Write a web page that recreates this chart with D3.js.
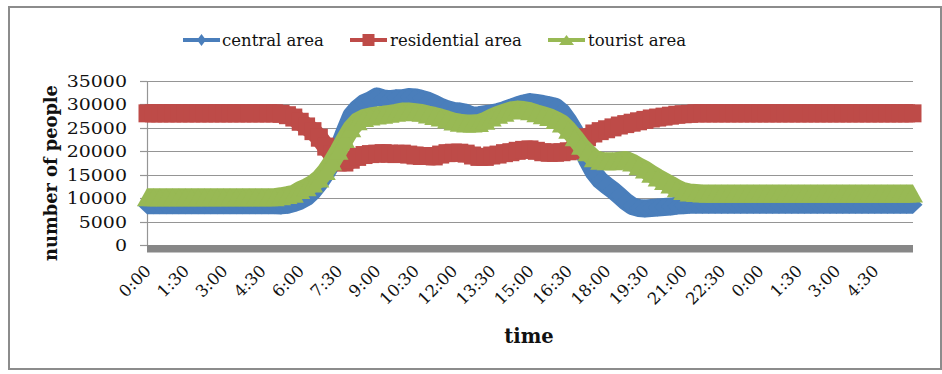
<!DOCTYPE html>
<html><head><meta charset="utf-8">
<script src="https://cdn.jsdelivr.net/npm/d3@7"></script>
<style>html,body{margin:0;padding:0;background:#fff;} svg{display:block;}</style>
</head><body>
<svg id="chart" width="942" height="374"></svg>
<script>
// Sampling step of the series (minutes from 0:00, 30 hours in total)
const stepMinutes = 15;
const spanMinutes = 1800;

// number of people per area, one value every 15 minutes
const central = [
  8500, 8500, 8500, 8500, 8500, 8500, 8500, 8500, 8500, 8500,
  8500, 8500, 8500, 8500, 8500, 8500, 8500, 8500, 8500, 8500,
  8500, 8450, 8600, 8950, 9450, 10200, 11500, 13200, 15200, 17500,
  20800, 24300, 27600, 29200, 30300, 30900, 31700, 31300, 31100, 31300,
  31300, 31600, 31500, 31200, 30800, 30200, 29500, 29000, 28600, 28500,
  28200, 27600, 27700, 27900, 28100, 28400, 28800, 29300, 29800, 30200,
  30500, 30300, 30100, 29800, 29500, 28400, 26500, 24300, 21000, 18000,
  15500, 13800, 12700, 11700, 10500, 9300, 8300, 7900, 7800, 7900,
  8000, 8100, 8200, 8400, 8500, 8600, 8600, 8600, 8600, 8600,
  8600, 8600, 8600, 8600, 8600, 8600, 8600, 8600, 8600, 8600,
  8600, 8600, 8600, 8600, 8600, 8600, 8600, 8600, 8600, 8600,
  8600, 8600, 8600, 8600, 8600, 8600, 8600, 8600, 8600, 8600,
  8600
];
const residential = [
  28100, 28100, 28100, 28100, 28100, 28100, 28100, 28100, 28100, 28100,
  28100, 28100, 28100, 28100, 28100, 28100, 28100, 28100, 28100, 28100,
  28100, 28000, 27700, 27200, 26300, 25300, 24300, 22900, 21000, 19300,
  17700, 17600, 18200, 18800, 19200, 19400, 19500, 19600, 19500, 19400,
  19500, 19300, 19100, 19000, 19000, 18900, 19300, 19600, 19700, 19700,
  19500, 19100, 18800, 18800, 19100, 19300, 19600, 19800, 20100, 20300,
  20400, 20100, 19800, 19700, 19700, 19800, 20000, 20200, 21300, 23000,
  23800, 24300, 24700, 25100, 25500, 25800, 26100, 26400, 26700, 27000,
  27200, 27400, 27600, 27800, 27900, 28000, 28100, 28100, 28100, 28100,
  28100, 28100, 28100, 28100, 28100, 28100, 28100, 28100, 28100, 28100,
  28100, 28100, 28100, 28100, 28100, 28100, 28100, 28100, 28100, 28100,
  28100, 28100, 28100, 28100, 28100, 28100, 28100, 28100, 28100, 28100,
  28100
];
const tourist = [
  10200, 10200, 10200, 10200, 10200, 10200, 10200, 10200, 10200, 10200,
  10200, 10200, 10200, 10200, 10200, 10200, 10200, 10200, 10200, 10200,
  10200, 10400, 10650, 10950, 11750, 12350, 13100, 14200, 15800, 17800,
  20100, 22600, 24900, 26400, 27100, 27450, 27650, 27800, 28000, 28200,
  28500, 28500, 28350, 28200, 27850, 27550, 27200, 26800, 26350, 26100,
  25950, 25950, 26050, 26500, 27200, 27800, 28250, 28700, 28900, 28800,
  28550, 28100, 27700, 27300, 26700, 25950, 24600, 23000, 21200, 19800,
  18500, 18000, 17850, 17850, 18000, 18150, 17600, 16800, 16100, 15200,
  14400, 13650, 12900, 12100, 11500, 11200, 11100, 11000, 11000, 11000,
  11000, 11000, 11000, 11000, 11000, 11000, 11000, 11000, 11000, 11000,
  11000, 11000, 11000, 11000, 11000, 11000, 11000, 11000, 11000, 11000,
  11000, 11000, 11000, 11000, 11000, 11000, 11000, 11000, 11000, 11000,
  11000
];

const seriesNames = ["central area", "residential area", "tourist area"];
const seriesColors = ["#4a7ebb", "#be4b48", "#98b954"];
const markerKinds = ["diamond", "square", "triangle"];

const tickLabels = ["0:00", "1:30", "3:00", "4:30", "6:00", "7:30", "9:00", "10:30", "12:00", "13:30",
                    "15:00", "16:30", "18:00", "19:30", "21:00", "22:30", "0:00", "1:30", "3:00", "4:30"];
const tickMinutes = [0, 90, 180, 270, 360, 450, 540, 630, 720, 810,
                     900, 990, 1080, 1170, 1260, 1350, 1440, 1530, 1620, 1710];
const yTicks = [0, 5000, 10000, 15000, 20000, 25000, 30000, 35000];

const svg = d3.select("#chart");
const serif = "'DejaVu Serif', 'Liberation Serif', serif";

const x = d3.scaleLinear().domain([0, spanMinutes]).range([147, 913]);
const y = d3.scaleLinear().domain([0, 35000]).range([245, 81]);

// chart frame
svg.append("rect")
  .attr("x", 9).attr("y", 7).attr("width", 932).attr("height", 362)
  .attr("fill", "#fff").attr("stroke", "#8c8c8c").attr("stroke-width", 2);

// horizontal gridlines and y tick marks
const grid = svg.append("g");
yTicks.forEach(v => {
  const yy = Math.round(y(v)) + 0.5;
  if (v > 0) {
    grid.append("line").attr("x1", 147).attr("x2", 913).attr("y1", yy).attr("y2", yy)
      .attr("stroke", "#959595").attr("stroke-width", 1.2);
  }
  grid.append("line").attr("x1", 140).attr("x2", 147).attr("y1", yy).attr("y2", yy)
    .attr("stroke", "#959595").attr("stroke-width", 1.2);
});
// value axis line
grid.append("line").attr("x1", 147.5).attr("x2", 147.5).attr("y1", y(35000)).attr("y2", y(0))
  .attr("stroke", "#959595").attr("stroke-width", 1.2);

// category axis (heavy grey bar along zero)
svg.append("rect")
  .attr("x", x(0)).attr("y", y(0)).attr("width", x(spanMinutes) - x(0)).attr("height", 7.5)
  .attr("fill", "#878787");

// y tick labels
const yLab = svg.append("g");
yTicks.forEach(v => {
  yLab.append("text")
    .attr("transform", `translate(127,${y(v) + 6}) scale(1.15,1)`)
    .attr("text-anchor", "end")
    .attr("font-family", serif).attr("font-size", 16.5).attr("fill", "#111")
    .text(v);
});

// x tick labels, slanted
const xLab = svg.append("g");
tickMinutes.forEach((m, i) => {
  xLab.append("text")
    .attr("transform", `translate(${x(m) + 5},${272}) rotate(-45)`)
    .attr("text-anchor", "end")
    .attr("font-family", serif).attr("font-size", 16.5).attr("fill", "#111")
    .text(tickLabels[i]);
});

// axis titles
svg.append("text")
  .attr("x", 529).attr("y", 343).attr("text-anchor", "middle")
  .attr("font-family", serif).attr("font-weight", "bold").attr("font-size", 19.5).attr("fill", "#111")
  .text("time");
svg.append("text")
  .attr("transform", "translate(57,173) rotate(-90)").attr("text-anchor", "middle")
  .attr("font-family", serif).attr("font-weight", "bold").attr("font-size", 17.8).attr("fill", "#111")
  .text("number of people");

// marker shapes
function markerPath(kind, w, h) {
  if (kind === "diamond") return `M0,${-h / 2}L${w / 2},0L0,${h / 2}L${-w / 2},0Z`;
  if (kind === "square") return `M${-w / 2},${-h / 2}h${w}v${h}h${-w}Z`;
  return `M0,${-h / 2}L${w / 2},${h / 2}L${-w / 2},${h / 2}Z`;
}
const markerSize = {diamond: [19, 18], square: [17, 18], triangle: [20, 18]};

// series: thick line plus dense markers
const seriesData = [central, residential, tourist];
const line = d3.line().x((d, i) => x(i * stepMinutes)).y(d => y(d));
seriesData.forEach((vals, s) => {
  const g = svg.append("g");
  g.append("path").datum(vals).attr("d", line)
    .attr("fill", "none").attr("stroke", seriesColors[s]).attr("stroke-width", 18)
    .attr("stroke-linejoin", "round");
  const [mw, mh] = markerSize[markerKinds[s]];
  g.selectAll("path.m").data(vals).join("path").attr("class", "m")
    .attr("transform", (d, i) => `translate(${x(i * stepMinutes)},${y(d)})`)
    .attr("d", markerPath(markerKinds[s], mw, mh))
    .attr("fill", seriesColors[s]);
});

// legend
const legendItems = [
  {lx: 183, tx: 222},
  {lx: 350, tx: 390},
  {lx: 548, tx: 588}
];
const legendMarker = {diamond: [9, 12], square: [12, 12], triangle: [15, 10]};
legendItems.forEach((it, s) => {
  const g = svg.append("g");
  g.append("line").attr("x1", it.lx).attr("x2", it.lx + 37).attr("y1", 40).attr("y2", 40)
    .attr("stroke", seriesColors[s]).attr("stroke-width", 4);
  const [mw, mh] = legendMarker[markerKinds[s]];
  g.append("path").attr("transform", `translate(${it.lx + 18.5},40)`)
    .attr("d", markerPath(markerKinds[s], mw, mh)).attr("fill", seriesColors[s]);
  g.append("text").attr("x", it.tx).attr("y", 46)
    .attr("font-family", serif).attr("font-size", 16.5).attr("fill", "#111")
    .text(seriesNames[s]);
});
</script>
</body></html>
